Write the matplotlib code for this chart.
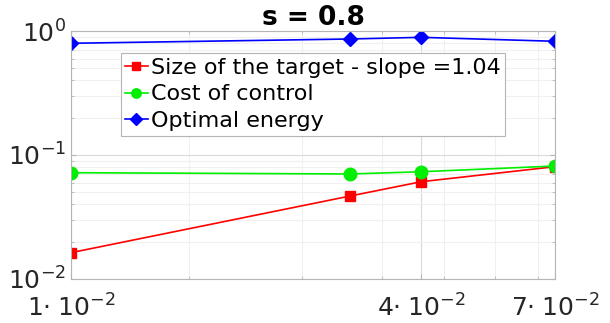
import numpy as np
import matplotlib.pyplot as plt
from matplotlib.ticker import FixedLocator, LogLocator, NullFormatter

# data
h = [0.0131, 0.0357, 0.0461, 0.0745]
target = [0.0163, 0.0467, 0.0609, 0.0805]
control = [0.0720, 0.0703, 0.0733, 0.0815]
energy = [0.796, 0.862, 0.889, 0.826]
xtick_labels = [r'$1{\cdot}\;10^{-2}$', r'$4{\cdot}\;10^{-2}$', r'$7{\cdot}\;10^{-2}$']
xtick_pos = [h[0], h[2], h[3]]

fig = plt.figure(figsize=(6.1, 3.23), dpi=100)
ax = fig.add_axes([71 / 610, 1 - 279 / 323, (555 - 71) / 610, (279 - 31) / 323])

ax.loglog(h, target, '-s', color='#ff0000', lw=1.2, ms=7, label='Size of the target - slope =1.04')
ax.loglog(h, control, '-o', color='#00ee00', lw=1.2, ms=9, label='Cost of control')
ax.loglog(h, energy, '-D', color='#0000ff', lw=1.2, ms=7.5, label='Optimal energy')

ax.set_xlim(h[0], h[-1])
ax.set_ylim(1e-2, 1)

ax.xaxis.set_major_locator(FixedLocator(xtick_pos))
ax.set_xticklabels(xtick_labels)
ax.xaxis.set_minor_locator(LogLocator(base=10, subs=np.arange(2, 10)))
ax.xaxis.set_minor_formatter(NullFormatter())

ax.grid(True, which='major', color='#d9d9d9', lw=0.8)
ax.grid(True, which='minor', color='#f0f0f0', lw=0.8)
ax.set_axisbelow(True)

for s in ax.spines.values():
    s.set_color('#b5b5b5')
ax.tick_params(which='both', direction='in', top=True, right=True, colors='#b5b5b5',
               labelcolor='#262626', labelsize=18)
ax.tick_params(axis='x', pad=11)

ax.set_title('s = 0.8', fontsize=19, fontweight='bold', pad=3)

leg = ax.legend(loc='upper left', bbox_to_anchor=(0.103, 0.91), fontsize=16, handlelength=1.0,
                handletextpad=0.15, borderpad=0.2, labelspacing=0.3, borderaxespad=0,
                fancybox=False, framealpha=1, edgecolor='#b5b5b5', markerscale=0.75)
leg.get_frame().set_linewidth(0.8)

fig.savefig('out.png', dpi=100)
